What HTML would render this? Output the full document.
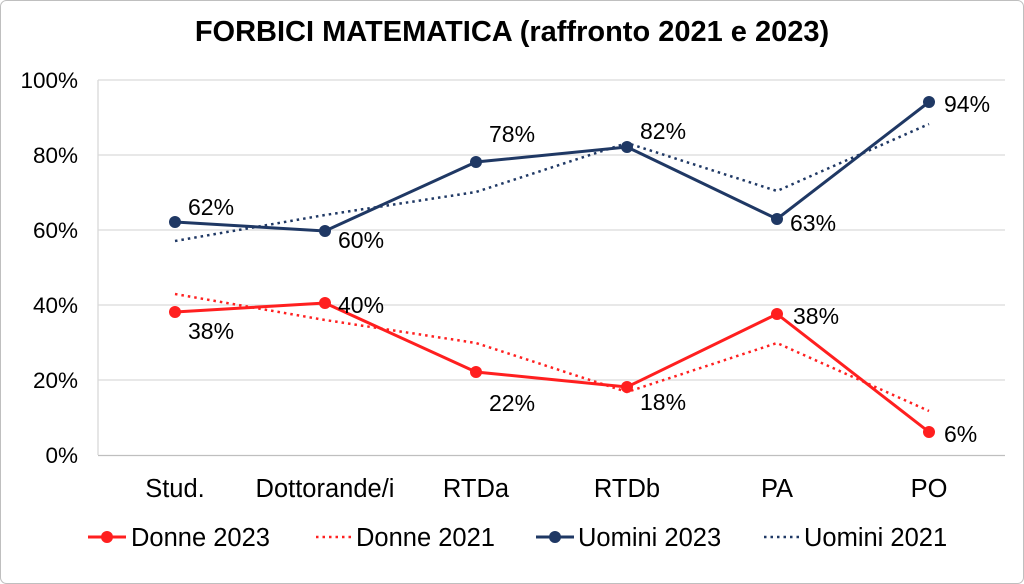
<!DOCTYPE html>
<html><head><meta charset="utf-8"><style>
html,body{margin:0;padding:0;background:#fff}
svg{display:block}
text{font-family:"Liberation Sans",Arial,sans-serif;fill:#000}
</style></head><body>
<svg width="1024" height="584" viewBox="0 0 1024 584" xmlns="http://www.w3.org/2000/svg">
<rect x="0.5" y="0.5" width="1023" height="583" rx="6" fill="#fff" stroke="#bfbfbf"/>
<text x="512" y="41" font-size="29" font-weight="bold" text-anchor="middle">FORBICI MATEMATICA (raffronto 2021 e 2023)</text>
<g stroke="#d9d9d9" stroke-width="1.3">
<line x1="98" y1="80" x2="1005" y2="80"/>
<line x1="98" y1="155" x2="1005" y2="155"/>
<line x1="98" y1="230" x2="1005" y2="230"/>
<line x1="98" y1="305" x2="1005" y2="305"/>
<line x1="98" y1="380" x2="1005" y2="380"/>
<line x1="98" y1="80" x2="98" y2="455"/>
</g>
<line x1="98" y1="455.5" x2="1005" y2="455.5" stroke="#bfbfbf" stroke-width="1.3"/>
<g font-size="22.5" text-anchor="end">
<text x="78" y="88">100%</text><text x="78" y="163">80%</text><text x="78" y="238">60%</text>
<text x="78" y="313">40%</text><text x="78" y="388">20%</text><text x="78" y="463">0%</text>
</g>
<g font-size="25.5" text-anchor="middle">
<text x="175" y="497">Stud.</text><text x="325" y="497">Dottorande/i</text><text x="476" y="497">RTDa</text>
<text x="627" y="497">RTDb</text><text x="777" y="497">PA</text><text x="929" y="497">PO</text>
</g>
<polyline fill="none" stroke="#1f3864" stroke-width="2.5" stroke-dasharray="2.5,4" points="175,241 325,215 476,192 627,143 777,191 929,124"/>
<polyline fill="none" stroke="#ff2020" stroke-width="2.5" stroke-dasharray="2.5,4" points="175,294 325,320 476,343 627,392 777,343 929,411"/>
<polyline fill="none" stroke="#1f3864" stroke-width="3" points="175,222 325,231 476,162 627,147 777,219 929,102"/>
<g fill="#1f3864"><circle cx="175" cy="222" r="6"/><circle cx="325" cy="231" r="6"/><circle cx="476" cy="162" r="6"/><circle cx="627" cy="147" r="6"/><circle cx="777" cy="219" r="6"/><circle cx="929" cy="102" r="6"/></g>
<polyline fill="none" stroke="#ff1f1f" stroke-width="3" points="175,312 325,303 476,372 627,387 777,314 929,432"/>
<g fill="#ff1f1f"><circle cx="175" cy="312" r="6"/><circle cx="325" cy="303" r="6"/><circle cx="476" cy="372" r="6"/><circle cx="627" cy="387" r="6"/><circle cx="777" cy="314" r="6"/><circle cx="929" cy="432" r="6"/></g>
<g font-size="23">
<text x="188" y="215">62%</text><text x="338" y="248">60%</text><text x="489" y="142">78%</text>
<text x="640" y="139">82%</text><text x="790" y="231">63%</text><text x="944" y="112">94%</text>
<text x="188" y="339">38%</text><text x="338" y="313">40%</text><text x="489" y="411">22%</text>
<text x="640" y="410">18%</text><text x="793" y="324">38%</text><text x="944" y="442">6%</text>
</g>
<line x1="88" y1="537" x2="126" y2="537" stroke="#ff1f1f" stroke-width="3"/><circle cx="107" cy="537" r="6" fill="#ff1f1f"/>
<text x="131" y="546" font-size="25.5">Donne 2023</text>
<line x1="316" y1="537" x2="352" y2="537" stroke="#ff2020" stroke-width="2.5" stroke-dasharray="2.5,4"/>
<text x="356" y="546" font-size="25.5">Donne 2021</text>
<line x1="536" y1="537" x2="574" y2="537" stroke="#1f3864" stroke-width="3"/><circle cx="555" cy="537" r="6" fill="#1f3864"/>
<text x="578" y="546" font-size="25.5">Uomini 2023</text>
<line x1="764" y1="537" x2="800" y2="537" stroke="#1f3864" stroke-width="2.5" stroke-dasharray="2.5,4"/>
<text x="804" y="546" font-size="25.5">Uomini 2021</text>
</svg>
</body></html>
